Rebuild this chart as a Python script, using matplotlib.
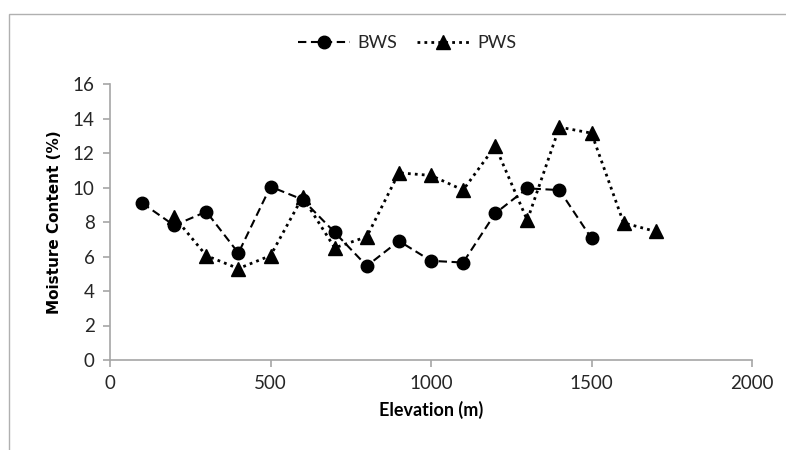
import matplotlib
matplotlib.use("Agg")
import matplotlib.pyplot as plt
from matplotlib.patches import Rectangle

# Moisture content along the elevation gradient for the two sites
bws_elev = [100, 200, 300, 400, 500, 600, 700, 800, 900, 1000, 1100, 1200, 1300, 1400, 1500]
bws_mc = [9.1, 7.8, 8.6, 6.2, 10.05, 9.3, 7.4, 5.45, 6.9, 5.75, 5.65, 8.5, 9.95, 9.85, 7.05]

pws_elev = [200, 300, 400, 500, 600, 700, 800, 900, 1000, 1100, 1200, 1300, 1400, 1500, 1600, 1700]
pws_mc = [8.3, 6.05, 5.3, 6.05, 9.45, 6.5, 7.15, 10.85, 10.7, 9.85, 12.4, 8.1, 13.5, 13.15, 7.95, 7.45]

x_ticks = [0, 500, 1000, 1500, 2000]
y_ticks = [0, 2, 4, 6, 8, 10, 12, 14, 16]

tick_font = "Lato"
axis_gray = "#a6a6a6"

fig = plt.figure(figsize=(7.86, 4.5), dpi=100)
ax = fig.add_axes([110 / 786, 1 - 360 / 450, (752 - 110) / 786, (360 - 84) / 450])

ax.plot(bws_elev, bws_mc, color="black", linestyle=(0, (4, 2.2)), linewidth=1.5,
        marker="o", markersize=9, label="BWS", zorder=3)
ax.plot(pws_elev, pws_mc, color="black", linestyle=(0, (1, 1.5)), linewidth=2.0,
        marker="^", markersize=9.5, label="PWS", zorder=3)

ax.set_xlim(0, 2000)
ax.set_ylim(0, 16)
ax.set_xticks(x_ticks)
ax.set_yticks(y_ticks)

for side in ("top", "right"):
    ax.spines[side].set_visible(False)
for side in ("left", "bottom"):
    ax.spines[side].set_color(axis_gray)
    ax.spines[side].set_linewidth(1.2)

ax.tick_params(axis="both", direction="out", length=5, width=1.2, color=axis_gray,
               labelsize=13.5, labelcolor="#262626", pad=6)
for lbl in ax.get_xticklabels() + ax.get_yticklabels():
    lbl.set_fontfamily(tick_font)

ax.set_xlabel("Elevation (m)", fontsize=13, fontweight="bold", family=tick_font,
              labelpad=6)
ax.set_ylabel("Moisture Content (%)", fontsize=11, fontweight="bold", family="DejaVu Sans",
              labelpad=8)

leg = fig.legend(loc="center", bbox_to_anchor=(407 / 786, 1 - 43 / 450), ncol=2,
                 frameon=False, prop={"family": tick_font, "size": 13},
                 handlelength=2.9, columnspacing=1.1, handletextpad=0.4)
for txt in leg.get_texts():
    txt.set_color("#262626")

# Thin outer frame around the chart area
fig.patches.append(Rectangle((9 / 786, -0.05), 1.2, 1 - 14 / 450 + 0.05,
                             transform=fig.transFigure, fill=False,
                             edgecolor="#b0b0b0", linewidth=1.0))

fig.savefig("out.png", dpi=100, facecolor="white")
